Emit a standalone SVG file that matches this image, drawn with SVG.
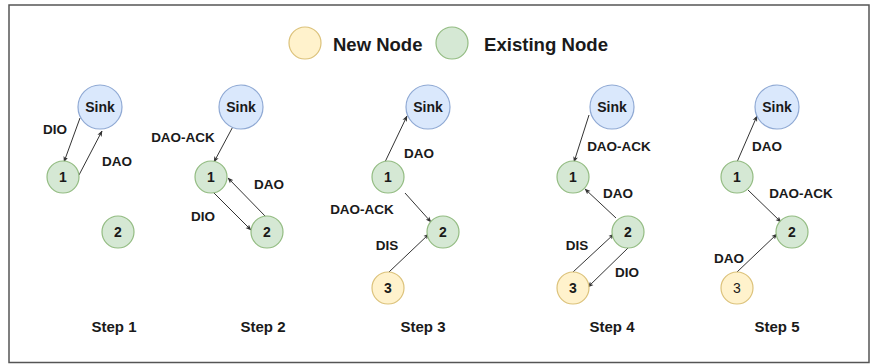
<svg xmlns="http://www.w3.org/2000/svg" width="871" height="364" viewBox="0 0 871 364">
  <style>
    text { font-family: "Liberation Sans", Arial, sans-serif; font-weight: bold; fill: #1a1a1a; text-anchor: middle; }
    .lbl { font-size: 13.5px; }
    .node { font-size: 14px; dominant-baseline: central; }
    .step { font-size: 15px; }
    .legend { font-size: 18.5px; text-anchor: start; dominant-baseline: central; }
    .sink { fill: #dae8fc; stroke: #8fa9d4; stroke-width: 1.2; }
    .old { fill: #d5e8d4; stroke: #93bc82; stroke-width: 1.2; }
    .new { fill: #fff2cc; stroke: #dcc27a; stroke-width: 1.2; }
    .edge { stroke: #333; stroke-width: 1; fill: none; marker-end: url(#tip); }
  </style>
  <defs>
    <marker id="tip" viewBox="0 0 10 10" refX="9" refY="5" markerWidth="6" markerHeight="6" orient="auto" markerUnits="userSpaceOnUse">
      <path d="M0,1 L10,5 L0,9 L2.5,5 Z" fill="#333"/>
    </marker>
  </defs>

  <rect x="0" y="0" width="871" height="364" fill="#fff"/>
  <rect x="9" y="5" width="860" height="357.5" fill="none" stroke="#555" stroke-width="1.5"/>

  <!-- legend -->
  <g id="legend">
    <circle class="new" cx="305" cy="43" r="16"/>
    <text class="legend" x="333" y="44">New Node</text>
    <circle class="old" cx="452" cy="43" r="16"/>
    <text class="legend" x="484" y="44" textLength="124" lengthAdjust="spacingAndGlyphs">Existing Node</text>
  </g>

  <!-- connectors -->
  <g id="connectors">
    <!-- step 1 -->
    <line class="edge" x1="80" y1="118" x2="64" y2="162"/>
    <line class="edge" x1="79" y1="175" x2="102" y2="131"/>
    <!-- step 2 -->
    <line class="edge" x1="237" y1="119" x2="214" y2="162"/>
    <line class="edge" x1="266" y1="217" x2="228" y2="178"/>
    <line class="edge" x1="213" y1="192" x2="251" y2="230"/>
    <!-- step 3 -->
    <line class="edge" x1="385" y1="162" x2="407" y2="116"/>
    <line class="edge" x1="405" y1="193" x2="431" y2="222"/>
    <line class="edge" x1="389" y1="272" x2="429" y2="234"/>
    <!-- step 4 -->
    <line class="edge" x1="589" y1="115" x2="574" y2="162"/>
    <line class="edge" x1="616" y1="218" x2="585" y2="189"/>
    <line class="edge" x1="573" y1="272" x2="614" y2="234"/>
    <line class="edge" x1="628" y1="248" x2="588" y2="287"/>
    <!-- step 5 -->
    <line class="edge" x1="737" y1="162" x2="757" y2="116"/>
    <line class="edge" x1="748" y1="190" x2="781" y2="222"/>
    <line class="edge" x1="737" y1="272" x2="777" y2="234"/>
  </g>

  <!-- connector labels -->
  <g id="labels">
    <text class="lbl" x="55" y="134">DIO</text>
    <text class="lbl" x="117" y="166">DAO</text>
    <text class="lbl" x="183" y="142">DAO-ACK</text>
    <text class="lbl" x="269" y="189">DAO</text>
    <text class="lbl" x="203" y="221">DIO</text>
    <text class="lbl" x="419" y="158">DAO</text>
    <text class="lbl" x="362" y="214">DAO-ACK</text>
    <text class="lbl" x="387" y="250">DIS</text>
    <text class="lbl" x="619" y="151">DAO-ACK</text>
    <text class="lbl" x="618" y="198">DAO</text>
    <text class="lbl" x="577" y="250">DIS</text>
    <text class="lbl" x="627" y="277">DIO</text>
    <text class="lbl" x="767" y="151">DAO</text>
    <text class="lbl" x="801" y="198">DAO-ACK</text>
    <text class="lbl" x="729" y="263">DAO</text>
  </g>

  <!-- step 1 -->
  <g id="s1-sink"><circle class="sink" cx="100" cy="107" r="22"/><text class="node" x="100" y="107">Sink</text></g>
  <g id="s1-n1"><circle class="old" cx="63" cy="177" r="16"/><text class="node" x="63" y="177">1</text></g>
  <g id="s1-n2"><circle class="old" cx="118" cy="232" r="16"/><text class="node" x="118" y="232">2</text></g>
  <text class="step" x="114" y="332">Step 1</text>

  <!-- step 2 -->
  <g id="s2-sink"><circle class="sink" cx="241" cy="107" r="22"/><text class="node" x="241" y="107">Sink</text></g>
  <g id="s2-n1"><circle class="old" cx="211" cy="177" r="16"/><text class="node" x="211" y="177">1</text></g>
  <g id="s2-n2"><circle class="old" cx="267" cy="232" r="16"/><text class="node" x="267" y="232">2</text></g>
  <text class="step" x="263" y="332">Step 2</text>

  <!-- step 3 -->
  <g id="s3-sink"><circle class="sink" cx="428" cy="107" r="22"/><text class="node" x="428" y="107">Sink</text></g>
  <g id="s3-n1"><circle class="old" cx="388" cy="177" r="16"/><text class="node" x="388" y="177">1</text></g>
  <g id="s3-n2"><circle class="old" cx="443" cy="232" r="16"/><text class="node" x="443" y="232">2</text></g>
  <g id="s3-n3"><circle class="new" cx="388" cy="288" r="16"/><text class="node" x="388" y="288">3</text></g>
  <text class="step" x="423" y="332">Step 3</text>

  <!-- step 4 -->
  <g id="s4-sink"><circle class="sink" cx="612" cy="107" r="22"/><text class="node" x="612" y="107">Sink</text></g>
  <g id="s4-n1"><circle class="old" cx="573" cy="177" r="16"/><text class="node" x="573" y="177">1</text></g>
  <g id="s4-n2"><circle class="old" cx="628" cy="232" r="16"/><text class="node" x="628" y="232">2</text></g>
  <g id="s4-n3"><circle class="new" cx="573" cy="288" r="16"/><text class="node" x="573" y="288">3</text></g>
  <text class="step" x="612" y="332">Step 4</text>

  <!-- step 5 -->
  <g id="s5-sink"><circle class="sink" cx="777" cy="107" r="22"/><text class="node" x="777" y="107">Sink</text></g>
  <g id="s5-n1"><circle class="old" cx="737" cy="177" r="16"/><text class="node" x="737" y="177">1</text></g>
  <g id="s5-n2"><circle class="old" cx="792" cy="232" r="16"/><text class="node" x="792" y="232">2</text></g>
  <g id="s5-n3"><circle class="new" cx="737" cy="288" r="16"/><text class="node" x="737" y="288" style="font-weight:normal">3</text></g>
  <text class="step" x="777" y="332">Step 5</text>
</svg>
